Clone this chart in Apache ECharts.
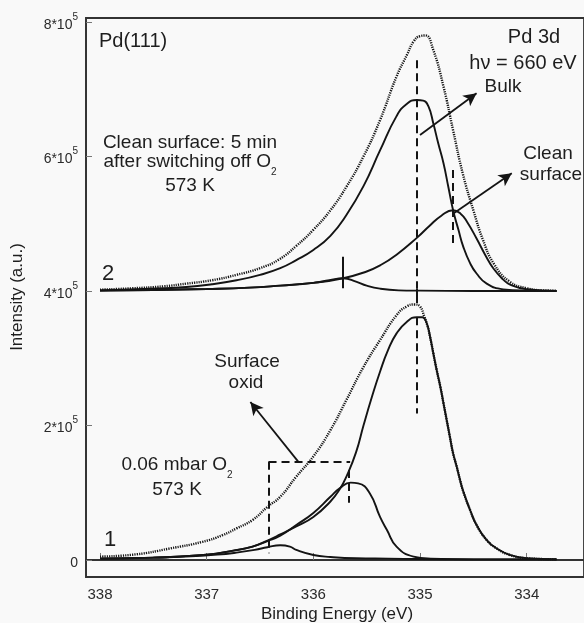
<!DOCTYPE html>
<html>
<head>
<meta charset="utf-8">
<script src="https://cdn.jsdelivr.net/npm/echarts@6/dist/echarts.min.js"></script>
<style>
html,body{margin:0;padding:0;background:#f9f9f9;}
#chart{width:584px;height:623px;}
</style>
</head>
<body>
<div id="chart"></div>
<script>
// ---- axis ticks ----
const xTickValues = [338, 337, 336, 335, 334];
const yTickValues = [0, 200000, 400000, 600000, 800000];
const yTickMantissa = ['0', '2*10', '4*10', '6*10', '8*10'];
const yTickExponent = ['', '5', '5', '5', '5'];

// ---- spectrum 2 (top, clean surface) intensities in 1000 counts ----
const s2DataE = [338.0, 337.7, 337.4, 337.19, 336.95, 336.72, 336.5, 336.32, 336.16, 336.0, 335.84, 335.69, 335.53, 335.375, 335.22, 335.12, 335.06, 335.0, 334.95, 334.875, 334.78, 334.69, 334.6, 334.5, 334.41, 334.31, 334.16, 334.0, 333.85, 333.72];
const s2DataI = [402, 404, 407, 411, 416, 424, 434, 447, 467, 491, 520, 555, 600, 654, 719, 752, 771, 779, 780, 758, 704, 639, 575, 520, 476, 441, 414, 404, 401, 400.5];

const s2BulkE = [338.0, 337.6, 337.19, 336.95, 336.72, 336.5, 336.31, 336.16, 336.0, 335.84, 335.69, 335.53, 335.375, 335.22, 335.125, 335.03, 334.97, 334.92, 334.875, 334.83, 334.78, 334.735, 334.69, 334.64, 334.595, 334.53, 334.47, 334.375, 334.22, 334.0, 333.72];
const s2BulkI = [401, 403, 406, 410, 416, 424, 434, 446, 461, 482, 513, 556, 609, 660, 678, 684, 683, 674, 649, 620, 590, 555, 520, 491, 466, 441, 426, 411, 402.5, 400.5, 400];

const s2CleanE = [338.0, 337.5, 337.0, 336.6, 336.31, 336.0, 335.72, 335.5, 335.375, 335.22, 335.03, 334.91, 334.8, 334.69, 334.62, 334.56, 334.47, 334.39, 334.31, 334.22, 334.16, 334.0, 333.72];
const s2CleanI = [400.5, 401.5, 403, 405, 408, 412, 419, 429, 438, 454, 479, 497, 512, 520, 515, 503, 478, 454, 433, 417, 410, 402.5, 400];

const s2SmallE = [338.0, 337.5, 337.0, 336.6, 336.31, 336.0, 335.85, 335.72, 335.6, 335.5, 335.375, 335.2, 335.0, 334.5, 333.72];
const s2SmallI = [400.5, 401.5, 403, 405, 408, 412, 416, 419, 414, 408, 403.5, 401, 400.5, 400, 400];

// ---- spectrum 1 (bottom, 0.06 mbar O2) intensities in 1000 counts ----
const s1DataE = [338.0, 337.66, 337.35, 337.04, 336.85, 336.72, 336.57, 336.43, 336.31, 336.16, 336.0, 335.84, 335.69, 335.53, 335.375, 335.22, 335.125, 335.05, 335.0, 334.96, 334.93, 334.906, 334.875, 334.844, 334.81, 334.78, 334.75, 334.72, 334.69, 334.656, 334.625, 334.594, 334.53, 334.47, 334.375, 334.28, 334.156, 334.0, 333.72];
const s1DataI = [5, 8.4, 17, 27, 37, 47, 59.5, 79, 94, 124, 154, 193, 238, 287, 327, 364, 377, 380, 377, 362, 348, 332, 307, 282.5, 258, 233, 208, 183, 158.6, 138.7, 119, 101.6, 74, 52, 29.7, 17, 7.4, 2.5, 1];

const s1BulkE = [338.0, 337.5, 337.0, 336.75, 336.57, 336.43, 336.31, 336.16, 336.0, 335.84, 335.75, 335.69, 335.6, 335.53, 335.45, 335.375, 335.3, 335.22, 335.125, 335.03, 334.98, 334.937, 334.906, 334.875, 334.844, 334.81, 334.78, 334.75, 334.72, 334.69, 334.656, 334.625, 334.594, 334.53, 334.47, 334.375, 334.28, 334.156, 334.0, 333.72];
const s1BulkI = [2, 3.5, 8, 14, 20, 29, 38, 50, 64, 87, 106, 124, 160, 200, 243, 280, 312, 337, 354, 361, 361, 352, 332, 307, 282.5, 258, 233, 208, 183, 158.6, 138.7, 119, 101.6, 74, 52, 29.7, 17, 7.4, 2.5, 1];

const s1OxideE = [338.0, 337.5, 337.0, 336.75, 336.57, 336.43, 336.31, 336.16, 336.0, 335.84, 335.75, 335.65, 335.58, 335.47, 335.375, 335.31, 335.22, 335.06, 334.9, 334.5, 333.72];
const s1OxideI = [2, 3.5, 8, 14, 20, 28, 36, 52, 70, 94, 107, 115, 114, 99, 64, 44.6, 20, 5, 2, 1, 1];

const s1SmallE = [338.0, 337.5, 337.2, 336.9, 336.72, 336.55, 336.43, 336.31, 336.22, 336.16, 336.0, 335.84, 335.6, 335.3, 335.0, 334.5, 333.72];
const s1SmallI = [2, 3.5, 5, 8, 11, 15, 19, 22, 20, 15, 7.5, 4.5, 2.5, 2, 1.5, 1, 1];

// ---- annotation segments [E1, I1, E2, I2] (1000 counts) ----
const dashedSegments = [
  [335.03, 743, 335.03, 404],
  [335.03, 361, 335.03, 218],
  [334.69, 580, 334.69, 471],
  [335.67, 134, 335.67, 85],
  [336.42, 146, 335.655, 146],
  [336.42, 146, 336.42, 10]
];
const solidSegments = [
  [335.72, 451, 335.72, 404],
  [335.03, 404, 335.03, 382]
];
const arrowSegments = [
  [335.0, 632, 334.47, 694],
  [334.69, 515, 334.14, 575],
  [336.14, 146, 336.59, 235]
];

const K = 1000;
function pairs(E, I) { return E.map((e, i) => [e, I[i] * K]); }
function segs(list) {
  return list.map(s => [{ coord: [s[0], s[1] * K] }, { coord: [s[2], s[3] * K] }]);
}

const FONT = '"Liberation Sans", Arial, Helvetica, sans-serif';
const INK = '#141414';

function solidSeries(E, I) {
  return {
    type: 'line', data: pairs(E, I), showSymbol: false, smooth: 0.5,
    lineStyle: { color: INK, width: 1.9 }, silent: true, z: 3
  };
}
function dottedSeries(E, I) {
  return {
    type: 'line', data: pairs(E, I), showSymbol: false, smooth: 0.5,
    lineStyle: { color: '#151515', width: 2.4, type: [1.2, 1.1] }, silent: true, z: 4
  };
}

const series = [
  dottedSeries(s2DataE, s2DataI),
  solidSeries(s2BulkE, s2BulkI),
  solidSeries(s2CleanE, s2CleanI),
  solidSeries(s2SmallE, s2SmallI),
  dottedSeries(s1DataE, s1DataI),
  solidSeries(s1BulkE, s1BulkI),
  solidSeries(s1OxideE, s1OxideI),
  solidSeries(s1SmallE, s1SmallI),
  {
    type: 'line', data: [], silent: true,
    markLine: {
      silent: true, animation: false, symbol: ['none', 'none'],
      label: { show: false },
      lineStyle: { color: INK, width: 2, type: [8, 5] },
      data: segs(dashedSegments)
    }
  },
  {
    type: 'line', data: [], silent: true,
    markLine: {
      silent: true, animation: false, symbol: ['none', 'none'],
      label: { show: false },
      lineStyle: { color: INK, width: 2, type: 'solid' },
      data: segs(solidSegments)
    }
  },
  {
    type: 'line', data: [], silent: true,
    markLine: {
      silent: true, animation: false, symbol: ['none', 'arrow'], symbolSize: [10, 13],
      label: { show: false },
      lineStyle: { color: INK, width: 1.8, type: 'solid' },
      data: segs(arrowSegments)
    }
  }
];

function txt(x, y, text, size, align, extra) {
  return Object.assign({
    type: 'text', x: x, y: y, silent: true, z: 10,
    style: {
      text: text, fill: '#1e1e1e', fontSize: size, fontFamily: FONT,
      textAlign: align || 'center', textVerticalAlign: 'middle'
    }
  }, extra || {});
}
function subTxt(x, y, main, sub, size) {
  return {
    type: 'text', x: x, y: y, silent: true, z: 10,
    style: {
      text: '{m|' + main + '}{s|' + sub + '}',
      fill: '#1e1e1e', fontFamily: FONT, fontSize: size,
      textAlign: 'center', textVerticalAlign: 'middle',
      rich: {
        m: { fontSize: size, fontFamily: FONT, fill: '#1e1e1e', lineHeight: size + 6, verticalAlign: 'top' },
        s: { fontSize: Math.round(size * 0.55), fontFamily: FONT, fill: '#1e1e1e', lineHeight: Math.round(size * 0.6), verticalAlign: 'bottom' }
      }
    }
  };
}

const option = {
  backgroundColor: '#f9f9f9',
  animation: false,
  grid: {
    left: 86, right: 0, top: 18, bottom: 46,
    show: true, borderColor: '#333', borderWidth: 1.8, backgroundColor: 'transparent'
  },
  xAxis: {
    type: 'value', inverse: true, min: 333.463, max: 338.131,
    axisLine: { show: true, lineStyle: { color: '#333', width: 1.8 } },
    axisTick: { show: true, inside: true, length: 7, lineStyle: { color: '#777', width: 1 }, customValues: xTickValues },
    axisLabel: { show: true, customValues: xTickValues, margin: 10, color: '#2a2a2a', fontSize: 15, fontFamily: FONT,
      formatter: v => String(Math.round(v)) },
    splitLine: { show: false }
  },
  yAxis: {
    type: 'value', min: -25279, max: 805948,
    axisLine: { show: true, lineStyle: { color: '#333', width: 1.8 } },
    axisTick: { show: true, inside: true, length: 6, lineStyle: { color: '#777', width: 1 }, customValues: yTickValues },
    axisLabel: {
      show: true, customValues: yTickValues, margin: 8, color: '#2a2a2a', fontFamily: FONT,
      formatter: function (v) {
        const i = yTickValues.indexOf(Math.round(v));
        if (i < 0) return '';
        if (!yTickExponent[i]) return '{m|' + yTickMantissa[i] + '}';
        return '{m|' + yTickMantissa[i] + '}{e|' + yTickExponent[i] + '}';
      },
      rich: {
        m: { fontSize: 14, fontFamily: FONT, color: '#2a2a2a', lineHeight: 20, verticalAlign: 'bottom' },
        e: { fontSize: 10, fontFamily: FONT, color: '#2a2a2a', lineHeight: 11, verticalAlign: 'top' }
      }
    },
    splitLine: { show: false }
  },
  series: series,
  graphic: [
    txt(99, 41, 'Pd(111)', 20, 'left'),
    txt(534, 37, 'Pd 3d', 20),
    txt(523, 63, 'h\u03bd = 660 eV', 20),
    txt(503, 87, 'Bulk', 19),
    txt(548, 154, 'Clean', 19),
    txt(551, 175, 'surface', 19),
    txt(190, 143, 'Clean surface: 5 min', 19),
    subTxt(190, 165, 'after switching off O', '2', 19),
    txt(190, 186, '573 K', 19),
    txt(108, 274, '2', 22),
    txt(110, 540, '1', 22),
    txt(247, 362, 'Surface', 19),
    txt(246, 383, 'oxid', 19),
    subTxt(177, 468, '0.06 mbar O', '2', 19),
    txt(177, 490, '573 K', 19),
    txt(17, 297, 'Intensity (a.u.)', 17, 'center', { rotation: Math.PI / 2 }),
    txt(337, 614, 'Binding Energy (eV)', 17)
  ]
};

const chart = echarts.init(document.getElementById('chart'), null, { renderer: 'canvas' });
chart.setOption(option);
</script>
</body>
</html>
